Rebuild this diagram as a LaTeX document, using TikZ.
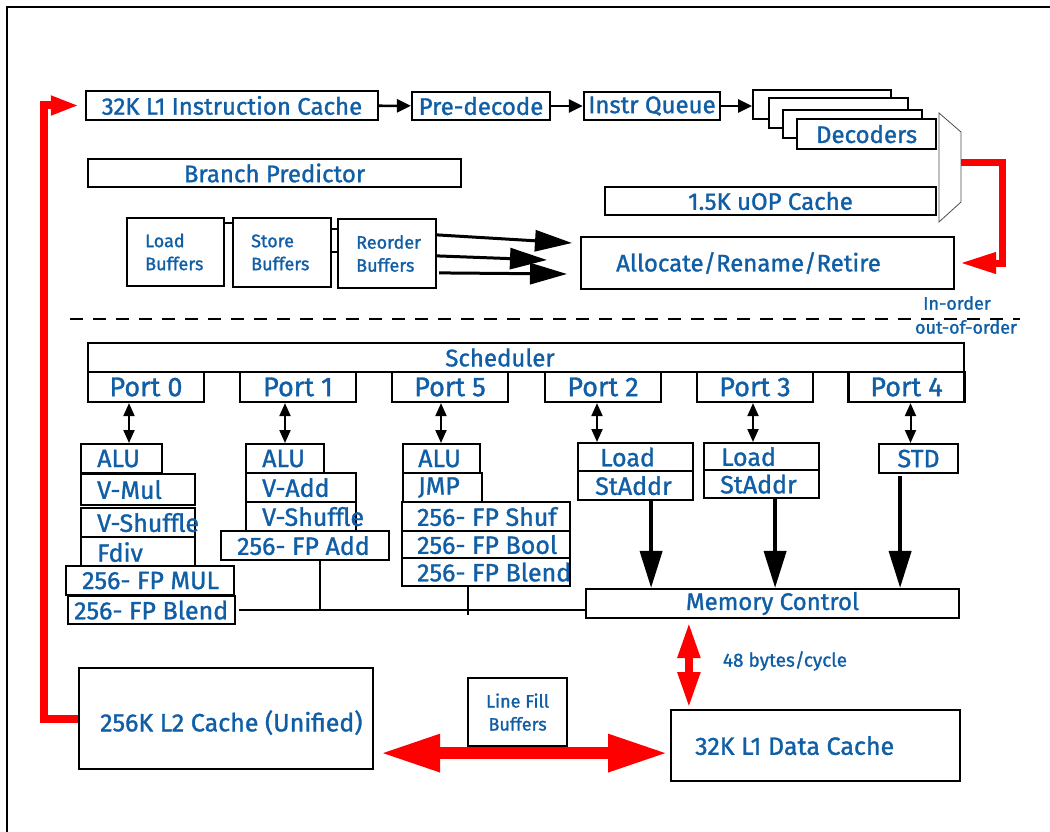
\documentclass[tikz,border=0pt]{standalone}
\usepackage{fontspec}
\setmainfont{Fira Sans}[FakeBold=1.2]
\usetikzlibrary{arrows.meta}
\definecolor{txtblue}{RGB}{16,94,166}
\tikzset{
  blk/.style={draw, line width=2.2pt, fill=white, text=txtblue, inner sep=0pt,
    font=\fontsize{24}{28}\selectfont},
  nwbox/.style={blk, anchor=north west},
  txt/.style={anchor=west, text=txtblue, inner sep=0pt, font=\fontsize{24}{28}\selectfont},
  eutext/.style={txt, font=\fontsize{25}{28}\selectfont},
  small/.style={font=\fontsize{18}{23}\selectfont, align=left},
  port/.style={blk, minimum width=116pt, minimum height=30pt, font=\fontsize{27}{30}\selectfont},
  flow/.style={line width=2.6pt, -{Triangle[length=14pt,width=13pt]}},
  robarr/.style={line width=3pt, -{Triangle[length=37pt,width=21pt]}},
  dbl/.style={line width=2pt, {Triangle[length=13pt,width=11pt]}-{Triangle[length=13pt,width=11pt]}},
  memarr/.style={line width=4pt, -{Triangle[length=37pt,width=22pt]}},
  bus/.style={line width=2.6pt},
  redarr/.style={red, line width=7pt, -{Triangle[length=36pt,width=20pt]}},
  redh/.style={red, line width=12pt, {Triangle[length=60pt,width=35pt]}-{Triangle[length=60pt,width=35pt]}},
  redv/.style={red, line width=8pt, {Triangle[length=36pt,width=21pt]}-{Triangle[length=36pt,width=21pt]}},
}
\begin{document}
\begin{tikzpicture}[x=1pt, y=-1pt]
  \useasboundingbox (0,0) rectangle (1050,832);
  \draw[line width=2pt] (7,832) -- (7,7) -- (1050,7);

  % front end
  \node[blk, minimum width=292pt, minimum height=29pt] (l1i) at (232,105.5) {32K L1 Instruction Cache};
  \node[blk, minimum width=138pt, minimum height=28pt] (predec) at (481,106) {Pre-decode};
  \node[blk, minimum width=136pt, minimum height=28pt] (iq) at (652,106) {Instr Queue};
  \node[nwbox, minimum width=138pt, minimum height=29pt] (dec1) at (752,89) {};
  \node[nwbox, minimum width=139pt, minimum height=30pt] (dec2) at (768,97) {};
  \node[nwbox, minimum width=139pt, minimum height=28pt] (dec3) at (782,109) {};
  \node[nwbox, minimum width=139pt, minimum height=30pt] (dec4) at (796,118) {Decoders};
  \draw[flow] (l1i) -- (predec);
  \draw[flow] (predec) -- (iq);
  \draw[flow] (iq.east) -- (iq.east -| dec1.west);

  \draw[gray!60!black, line width=0.8pt] (939,113) -- (961,132) -- (961,202) -- (939,222) -- cycle;
  \coordinate (mux) at (961,163);

  \node[blk, minimum width=373pt, minimum height=28pt] (bp) at (274.5,173) {Branch Predictor};
  \node[blk, minimum width=331pt, minimum height=28pt] (uop) at (770.5,201) {1.5K uOP Cache};
  \node[blk, minimum width=373pt, minimum height=52pt] (alloc) at (767.5,263) {};
  \node[txt] (alloct) at (616,263) {Allocate/Rename/Retire};
  \draw[redarr] (mux) -| (1002,263) -- ([xshift=5pt]alloc.east);

  % buffers
  \node[blk, minimum width=97pt, minimum height=68pt] (lb) at (175.5,252) {};
  \node[txt, small] (lbt) at (145,252) {Load\\Buffers};
  \node[blk, minimum width=98pt, minimum height=69pt] (sb) at (282,252.5) {};
  \node[txt, small] (sbt) at (251,252.5) {Store\\Buffers};
  \node[blk, minimum width=98pt, minimum height=69pt] (rb) at (387,253.5) {};
  \node[txt, small] (rbt) at (356,253.5) {Reorder\\Buffers};
  \draw[line width=1.2pt] ([yshift=-6pt]lb.north east) -- ([yshift=-6pt]lb.north east -| sb.west);
  \draw[line width=1.2pt] ([yshift=-12pt]sb.north east) -- ([yshift=-12pt]sb.north east -| rb.west);
  \draw[line width=1.2pt] ([yshift=-35pt]sb.north east) -- ([yshift=-35pt]sb.north east -| rb.west);
  \coordinate (t1) at (572,243);
  \coordinate (t2) at (547,260);
  \coordinate (t3) at (567,274);
  \draw[robarr] ([yshift=-17pt]rb.north east) -- (t1);
  \draw[robarr] ([yshift=-38pt]rb.north east) -- (t2);
  \draw[robarr] ([xshift=2pt,yshift=-55pt]rb.north east) -- (t3);

  % in-order / out-of-order
  \draw[line width=2.2pt, dash pattern=on 13pt off 10pt] (70,319) -- (1020,319);
  \node[txt, small, anchor=center] (inord) at (957,303) {In-order};
  \node[txt, small, anchor=center] (outord) at (966,327) {out-of-order};

  % scheduler and ports
  \node[blk, minimum width=876pt, minimum height=29pt] (sched) at (526,357.5) {};
  \node[txt, anchor=center] (schedt) at (500,357.5) {Scheduler};
  \node[port] (p0) at (146,387) {Port 0};
  \node[port] (p1) at (298,387) {Port 1};
  \node[port] (p5) at (450,387) {Port 5};
  \node[port] (p2) at (603,387) {Port 2};
  \node[port] (p3) at (755,387) {Port 3};
  \node[port] (p4) at (906.5,387) {Port 4};

  % port 0
  \node[nwbox, minimum width=81pt, minimum height=29pt] (alu0) at (80,443) {};
  \node[eutext] (alu0t) at ([xshift=17pt]alu0.west) {ALU};
  \node[nwbox, minimum width=114pt, minimum height=31pt] (vmul0) at (80,473) {};
  \node[eutext] (vmul0t) at ([xshift=17pt]vmul0.west) {V-Mul};
  \node[nwbox, minimum width=114pt, minimum height=29pt] (vshuf0) at (80,507) {};
  \node[eutext] (vshuf0t) at ([xshift=17pt]vshuf0.west) {V-Shuffle};
  \node[nwbox, minimum width=114pt, minimum height=30pt] (fdiv0) at (80,536) {};
  \node[eutext] (fdiv0t) at ([xshift=17pt]fdiv0.west) {Fdiv};
  \node[nwbox, minimum width=168pt, minimum height=29pt] (fpmul0) at (65,565) {};
  \node[eutext] (fpmul0t) at ([xshift=17pt]fpmul0.west) {256- FP MUL};
  \node[nwbox, minimum width=167pt, minimum height=28pt] (blend0) at (67,595) {};
  \node[eutext] (blend0t) at ([xshift=7pt]blend0.west) {256- FP Blend};

  % port 1
  \node[nwbox, minimum width=78pt, minimum height=29pt] (alu1) at (245,443) {};
  \node[eutext] (alu1t) at ([xshift=17pt]alu1.west) {ALU};
  \node[nwbox, minimum width=110pt, minimum height=29pt] (vadd1) at (245,472) {};
  \node[eutext] (vadd1t) at ([xshift=17pt]vadd1.west) {V-Add};
  \node[nwbox, minimum width=110pt, minimum height=29pt] (vshuf1) at (245,501) {};
  \node[eutext] (vshuf1t) at ([xshift=17pt]vshuf1.west) {V-Shuffle};
  \node[nwbox, minimum width=168pt, minimum height=29pt] (fpadd1) at (220,530) {};
  \node[eutext] (fpadd1t) at ([xshift=17pt]fpadd1.west) {256- FP Add};

  % port 5
  \node[nwbox, minimum width=77pt, minimum height=29pt] (alu5) at (402,443) {};
  \node[eutext] (alu5t) at ([xshift=16pt]alu5.west) {ALU};
  \node[nwbox, minimum width=79pt, minimum height=29pt] (jmp5) at (402,472) {};
  \node[eutext] (jmp5t) at ([xshift=16pt]jmp5.west) {JMP};
  \node[nwbox, minimum width=168pt, minimum height=29pt] (shuf5) at (401,501) {};
  \node[eutext] (shuf5t) at ([xshift=16pt]shuf5.west) {256- FP Shuf};
  \node[nwbox, minimum width=168pt, minimum height=27pt] (bool5) at (401,530) {};
  \node[eutext] (bool5t) at ([xshift=16pt]bool5.west) {256- FP Bool};
  \node[nwbox, minimum width=168pt, minimum height=28pt] (blend5) at (401,557) {};
  \node[eutext] (blend5t) at ([xshift=16pt]blend5.west) {256- FP Blend};

  % ports 2, 3, 4
  \node[nwbox, minimum width=115pt, minimum height=28pt] (ld2) at (577,442) {};
  \node[eutext] (ld2t) at ([xshift=23pt]ld2.west) {Load};
  \node[nwbox, minimum width=115pt, minimum height=29pt] (sa2) at (577,470) {};
  \node[eutext] (sa2t) at ([xshift=18pt]sa2.west) {StAddr};
  \node[nwbox, minimum width=115pt, minimum height=27pt] (ld3) at (703,442) {};
  \node[eutext] (ld3t) at ([xshift=18pt]ld3.west) {Load};
  \node[nwbox, minimum width=115pt, minimum height=28pt] (sa3) at (703,469) {};
  \node[eutext] (sa3t) at ([xshift=17pt]sa3.west) {StAddr};
  \node[nwbox, minimum width=79pt, minimum height=29pt, font=\fontsize{25}{28}\selectfont] (std4) at (878,443) {STD};

  \draw[dbl] ([xshift=-17pt]p0.south) -- ([xshift=-17pt]p0.south |- alu0.north);
  \draw[dbl] ([xshift=-13pt]p1.south) -- ([xshift=-13pt]p1.south |- alu1.north);
  \draw[dbl] ([xshift=-9pt]p5.south) -- ([xshift=-9pt]p5.south |- alu5.north);
  \draw[dbl] ([xshift=-6pt]p2.south) -- ([xshift=-6pt]p2.south |- ld2.north);
  \draw[dbl] ([xshift=-2pt]p3.south) -- ([xshift=-2pt]p3.south |- ld3.north);
  \draw[dbl] ([xshift=4pt]p4.south) -- ([xshift=4pt]p4.south |- std4.north);

  % memory
  \node[blk, minimum width=373pt, minimum height=29pt] (mc) at (772.5,603.5) {Memory Control};
  \draw[memarr] ([xshift=15.5pt]sa2.south) -- ([xshift=15.5pt]sa2.south |- mc.north);
  \draw[memarr] ([xshift=13.5pt]sa3.south) -- ([xshift=13.5pt]sa3.south |- mc.north);
  \draw[memarr] ([xshift=-18.5pt,yshift=-2pt]std4.south) -- ([xshift=-18.5pt]std4.south |- mc.north);
  \draw[bus] ([xshift=3pt]blend0.east) -- (blend0.east -| mc.west);
  \draw[bus] ([xshift=15pt]fpadd1.south) -- ([xshift=15pt]fpadd1.south |- blend0.east);
  \draw[bus] ([xshift=-18pt]blend5.south) -- ([xshift=-18pt,yshift=-5pt]blend5.south |- blend0.east);

  % caches
  \node[nwbox, minimum width=294pt, minimum height=101pt] (l2) at (78,667) {};
  \node[txt, font=\fontsize{25}{28}\selectfont] (l2t) at ([xshift=22pt,yshift=-4pt]l2.west) {256K L2 Cache (Unified)};
  \node[nwbox, small, align=center, minimum width=99pt, minimum height=68pt] (lfb) at (467,677) {Line Fill\\Buffers};
  \node[nwbox, minimum width=289pt, minimum height=71pt] (l1d) at (670,709) {};
  \node[txt, font=\fontsize{25}{28}\selectfont] (l1dt) at ([xshift=25pt]l1d.west) {32K L1 Data Cache};
  \node[txt, anchor=center, font=\fontsize{19}{23}\selectfont] (bw) at (785,661) {48 bytes/cycle};

  \draw[redh] ([xshift=6pt,yshift=-34.5pt]l2.east) -- ([xshift=-2pt,yshift=-34.5pt]l2.east -| l1d.west);
  \draw[redv] ([xshift=104pt,yshift=-3pt]mc.south west) -- ([xshift=104pt,yshift=1pt]mc.south west |- l1d.north);
  \draw[red, line width=8pt, -{Triangle[length=28pt,width=18pt]}] (l2.west) -- ++(-34,0) |- ([xshift=-6pt]l1i.west);
\end{tikzpicture}
\end{document}
